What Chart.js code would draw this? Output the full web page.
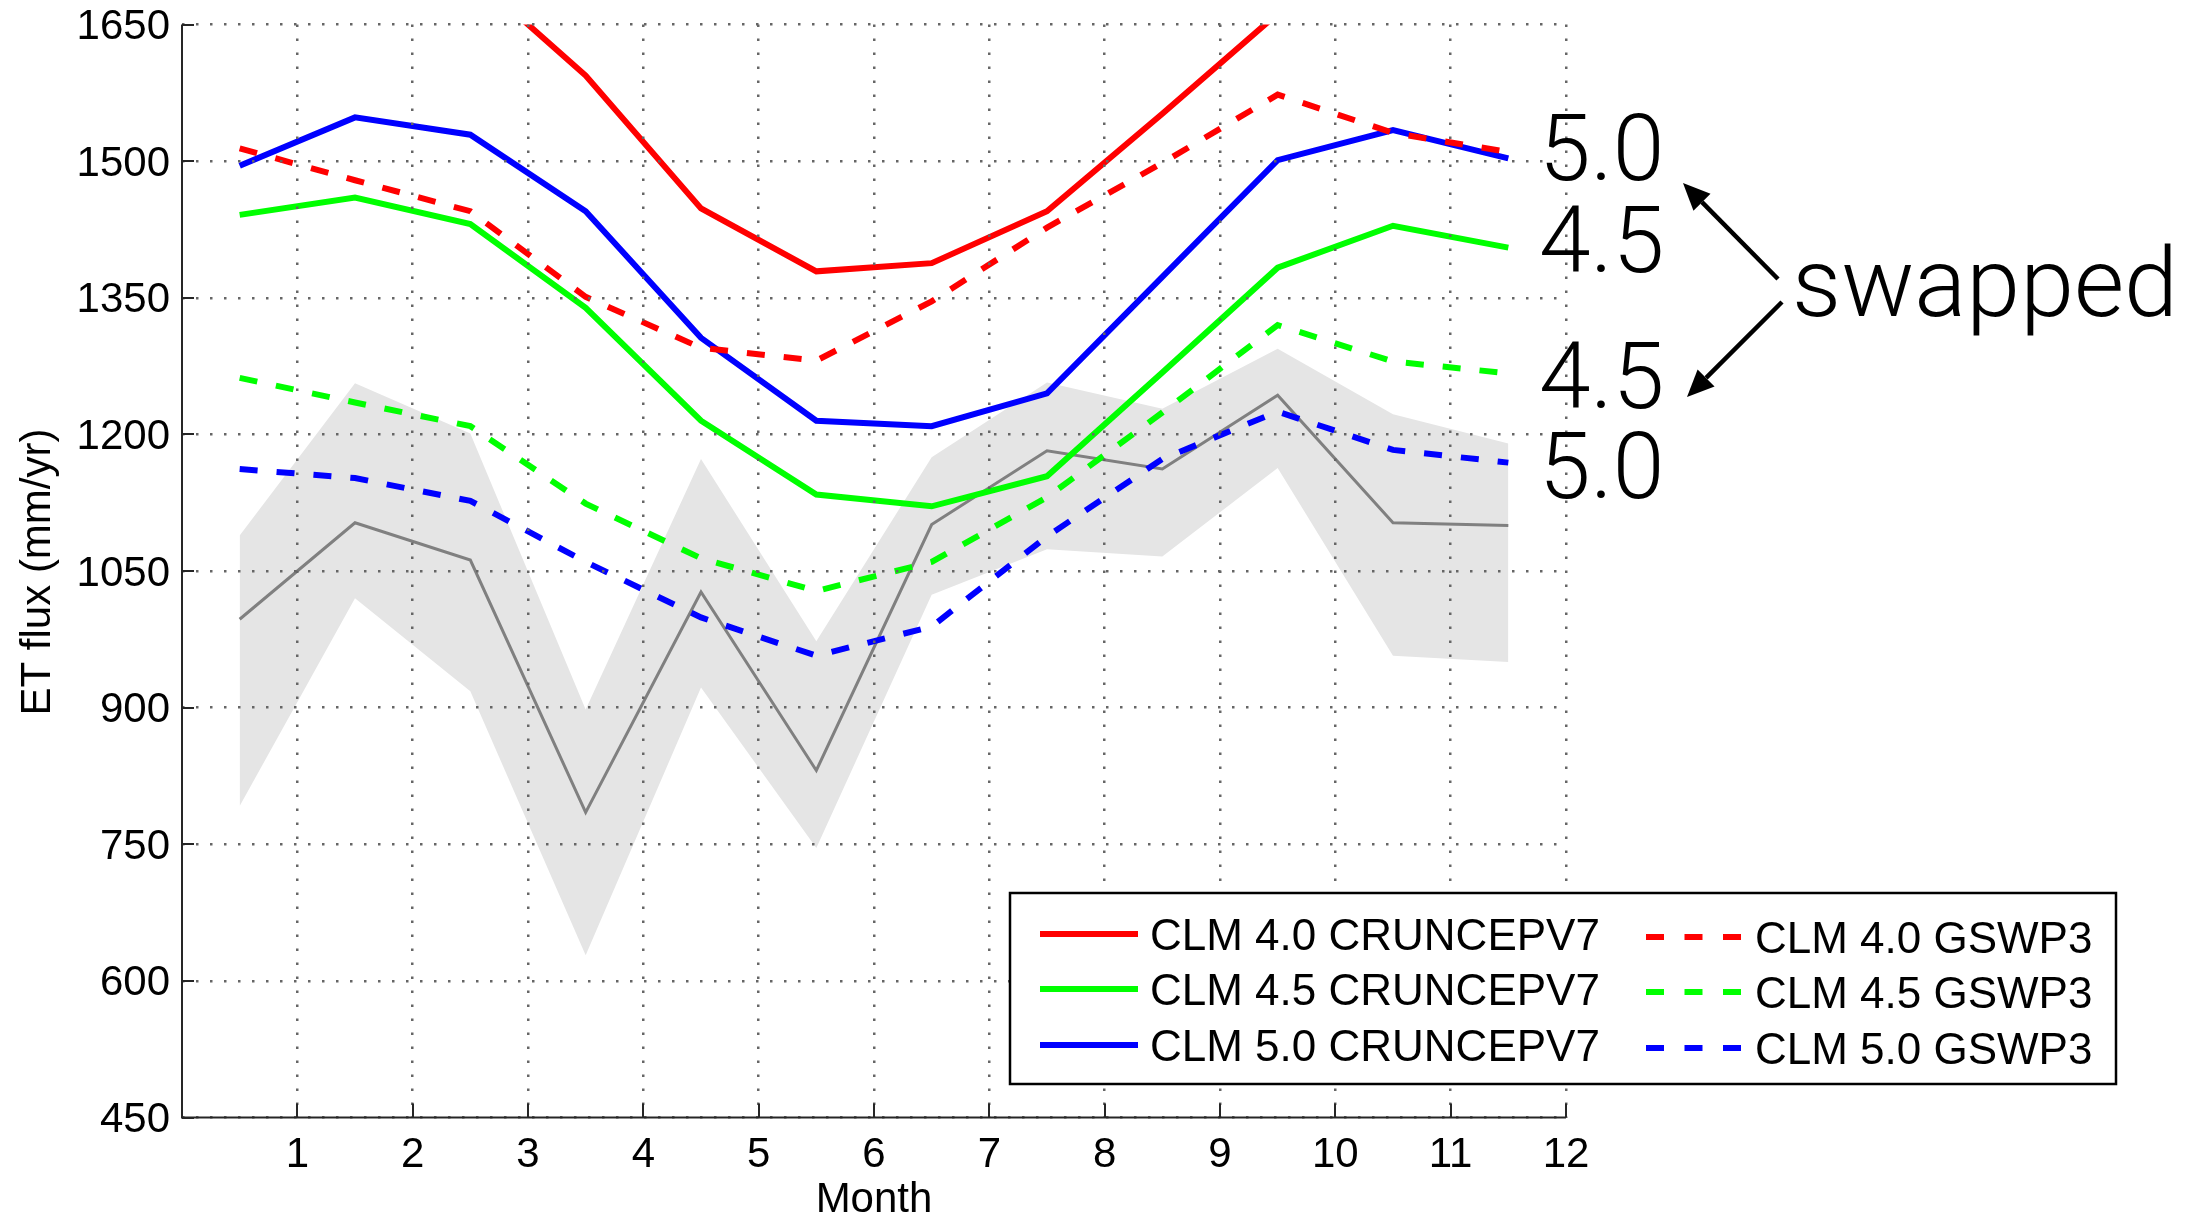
<!DOCTYPE html>
<html>
<head>
<meta charset="utf-8">
<title>ET flux by month</title>
<script src="https://cdn.jsdelivr.net/npm/chart.js@4"></script>
<style>
    html, body { margin: 0; padding: 0; background: #ffffff; overflow: hidden; }
    #wrap { width: 2210px; height: 1218px; }
    canvas { display: block; }
</style>
</head>
<body>
<div id="wrap"><canvas id="etChart" width="2210" height="1218"></canvas></div>
<script>
// Monthly ET flux (mm/yr), values plotted at mid-month
const months = [0.5, 1.5, 2.5, 3.5, 4.5, 5.5, 6.5, 7.5, 8.5, 9.5, 10.5, 11.5];
const xTickValues = [1, 2, 3, 4, 5, 6, 7, 8, 9, 10, 11, 12];
const yTickValues = [450, 600, 750, 900, 1050, 1200, 1350, 1500, 1650];

const clm40Cru = [1760, 1780, 1706, 1594, 1448, 1379, 1388, 1445, 1552, 1662, 1700, 1690];
const clm45Cru = [1441, 1460, 1431, 1339, 1215, 1134, 1121, 1154, 1268, 1383, 1429, 1405];
const clm50Cru = [1495, 1548, 1529, 1445, 1306, 1215, 1209, 1245, 1373, 1501, 1534, 1503];
const clm40Gswp = [1514, 1479, 1445, 1351, 1295, 1281, 1346, 1427, 1498, 1573, 1531, 1510];
const clm45Gswp = [1262, 1235, 1209, 1124, 1064, 1028, 1060, 1131, 1224, 1320, 1280, 1267];
const clm50Gswp = [1162, 1152, 1127, 1060, 999, 957, 989, 1088, 1173, 1225, 1183, 1169];

const obsMean = [997, 1103, 1062, 785, 1027, 831, 1101, 1182, 1162, 1243, 1103, 1100];
const obsUpper = [1089, 1256, 1201, 898, 1173, 973, 1175, 1257, 1228, 1294, 1222, 1190];
const obsLower = [792, 1020, 918, 628, 922, 746, 1024, 1074, 1066, 1163, 957, 950];

const FONT = '"Liberation Sans", Arial, Helvetica, sans-serif';
const LIGHT_FONT = 'Roboto, Lato, "Liberation Sans", sans-serif';
const DASH = [18, 19];

// where the plot box sits in the 2210x1218 picture
const plotBox = { left: 182, top: 24.5, right: 1566, bottom: 1117.5 };
let yAxisWidth = plotBox.left;
let xAxisHeight = 1218 - plotBox.bottom;

function toPoints(values) {
    return values.map((v, i) => ({ x: months[i], y: v }));
}

function series(label, values, color, dashed, order) {
    return {
        label: label,
        data: toPoints(values),
        borderColor: color,
        borderWidth: 6,
        borderDash: dashed ? DASH : [],
        pointRadius: 0,
        tension: 0,
        fill: false,
        order: order,
        isSeries: true
    };
}

// Axis lines, inner tick marks, axis titles, legend box and side notes
const decorations = {
    id: 'decorations',
    afterDraw(chart) {
        const { ctx, chartArea: a, scales: { x, y } } = chart;
        ctx.save();

        // axes (box off) with inward ticks
        ctx.strokeStyle = '#262626';
        ctx.lineWidth = 2;
        ctx.beginPath();
        ctx.moveTo(a.left, a.top);
        ctx.lineTo(a.left, a.bottom);
        ctx.lineTo(a.right, a.bottom);
        xTickValues.forEach(v => {
            const px = Math.round(x.getPixelForValue(v));
            ctx.moveTo(px, a.bottom);
            ctx.lineTo(px, a.bottom - 14);
        });
        yTickValues.forEach(v => {
            const py = Math.round(y.getPixelForValue(v));
            ctx.moveTo(a.left, py);
            ctx.lineTo(a.left + 12, py);
        });
        ctx.stroke();

        // axis titles
        ctx.fillStyle = '#000';
        ctx.font = '42px ' + FONT;
        ctx.textAlign = 'center';
        ctx.textBaseline = 'alphabetic';
        ctx.fillText('Month', (a.left + a.right) / 2, 1212);
        ctx.save();
        ctx.translate(50, (a.top + a.bottom) / 2 + 1);
        ctx.rotate(-Math.PI / 2);
        ctx.fillText('ET flux (mm/yr)', 0, 0);
        ctx.restore();

        // legend, two columns of three
        const box = { left: 1010, top: 893, right: 2116, bottom: 1084 };
        ctx.fillStyle = '#fff';
        ctx.fillRect(box.left, box.top, box.right - box.left, box.bottom - box.top);
        ctx.strokeStyle = '#000';
        ctx.lineWidth = 2.5;
        ctx.strokeRect(box.left, box.top, box.right - box.left, box.bottom - box.top);

        const cols = [
            { lineX0: 1040, lineX1: 1138, textX: 1150, dy: 0 },
            { lineX0: 1646, lineX1: 1741, textX: 1755, dy: 3 }
        ];
        const rowY = [934, 989, 1045];
        const items = chart.data.datasets.filter(d => d.isSeries);
        ctx.font = '44px ' + FONT;
        ctx.textAlign = 'left';
        items.forEach((d, i) => {
            const c = cols[Math.floor(i / 3)];
            const ly = rowY[i % 3] + c.dy;
            ctx.beginPath();
            ctx.strokeStyle = d.borderColor;
            ctx.lineWidth = 6;
            ctx.setLineDash(d.borderDash.length ? [18, 20.5] : []);
            ctx.moveTo(c.lineX0, ly);
            ctx.lineTo(c.lineX1, ly);
            ctx.stroke();
            ctx.setLineDash([]);
            ctx.fillStyle = '#000';
            ctx.fillText(d.label, c.textX, ly + 16);
        });

        // "swapped" note
        ctx.fillStyle = '#000';
        ctx.font = '300 93px ' + LIGHT_FONT;
        ctx.fillText('5.0', 1539, 180);
        ctx.fillText('4.5', 1539, 272);
        ctx.fillText('4.5', 1539, 408);
        ctx.fillText('5.0', 1539, 498);
        ctx.font = '300 97px ' + LIGHT_FONT;
        ctx.fillText('swapped', 1792, 316);

        drawArrow(ctx, 1778, 279, 1683, 183);
        drawArrow(ctx, 1782, 302, 1687, 397);
        ctx.restore();
    }
};

function drawArrow(ctx, x0, y0, x1, y1) {
    const ang = Math.atan2(y1 - y0, x1 - x0);
    const len = 27, half = 12;
    const bx = x1 - len * Math.cos(ang), by = y1 - len * Math.sin(ang);
    ctx.strokeStyle = '#000';
    ctx.fillStyle = '#000';
    ctx.lineWidth = 4.5;
    ctx.beginPath();
    ctx.moveTo(x0, y0);
    ctx.lineTo(bx, by);
    ctx.stroke();
    ctx.beginPath();
    ctx.moveTo(x1, y1);
    ctx.lineTo(bx + half * Math.sin(ang), by - half * Math.cos(ang));
    ctx.lineTo(bx - half * Math.sin(ang), by + half * Math.cos(ang));
    ctx.closePath();
    ctx.fill();
}

const ctx = document.getElementById('etChart').getContext('2d');
const etChart = new Chart(ctx, {
    type: 'line',
    data: {
        datasets: [
            series('CLM 4.0 CRUNCEPV7', clm40Cru, '#ff0000', false, 6),
            series('CLM 4.5 CRUNCEPV7', clm45Cru, '#00ff00', false, 5),
            series('CLM 5.0 CRUNCEPV7', clm50Cru, '#0000ff', false, 4),
            series('CLM 4.0 GSWP3', clm40Gswp, '#ff0000', true, 3),
            series('CLM 4.5 GSWP3', clm45Gswp, '#00ff00', true, 2),
            series('CLM 5.0 GSWP3', clm50Gswp, '#0000ff', true, 1),
            {
                label: 'obs mean',
                data: toPoints(obsMean),
                borderColor: '#808080',
                borderWidth: 3,
                pointRadius: 0,
                fill: false,
                order: 7
            },
            {
                label: 'obs upper',
                data: toPoints(obsUpper),
                borderWidth: 0,
                borderColor: 'rgba(0,0,0,0)',
                backgroundColor: '#e5e5e5',
                pointRadius: 0,
                fill: '+1',
                order: 8
            },
            {
                label: 'obs lower',
                data: toPoints(obsLower),
                borderWidth: 0,
                borderColor: 'rgba(0,0,0,0)',
                pointRadius: 0,
                fill: false,
                order: 9
            }
        ]
    },
    options: {
        responsive: false,
        animation: false,
        events: [],
        layout: {
            autoPadding: false,
            padding: { top: plotBox.top, right: 2210 - plotBox.right, bottom: 0, left: 0 }
        },
        plugins: {
            legend: { display: false },
            tooltip: { enabled: false },
            title: { display: false }
        },
        scales: {
            x: {
                type: 'linear',
                min: 0,
                max: 12,
                afterBuildTicks: axis => { axis.ticks = xTickValues.map(v => ({ value: v })); },
                afterFit: scale => { scale.height = xAxisHeight; },
                grid: { color: '#666', lineWidth: 2.5, drawTicks: false, z: 1 },
                border: { display: false, dash: [2.5, 11.5] },
                ticks: {
                    autoSkip: false,
                    maxRotation: 0,
                    padding: 13,
                    color: '#000',
                    font: { family: FONT, size: 42 },
                    callback: v => String(v)
                }
            },
            y: {
                type: 'linear',
                min: 450,
                max: 1650,
                afterBuildTicks: axis => { axis.ticks = yTickValues.map(v => ({ value: v })); },
                afterFit: scale => { scale.width = yAxisWidth; },
                grid: { color: '#666', lineWidth: 2.5, drawTicks: false, z: 1 },
                border: { display: false, dash: [2.5, 11.5] },
                ticks: {
                    autoSkip: false,
                    padding: 12,
                    labelOffset: 3,
                    color: '#000',
                    // small lineHeight keeps the top label from pushing the plot down
                    font: { family: FONT, size: 42, lineHeight: 0.4 },
                    callback: v => String(v)
                }
            }
        }
    },
    plugins: [decorations]
});

// nudge the layout so the plot box lands where it is in the original figure
(function alignPlotArea(chart) {
    const a = chart.chartArea;
    const pad = chart.config.options.layout.padding;
    pad.top += plotBox.top - a.top;
    pad.right += a.right - plotBox.right;
    xAxisHeight += a.bottom - plotBox.bottom;
    yAxisWidth += plotBox.left - a.left;
    chart.update();
})(etChart);
</script>
</body>
</html>
